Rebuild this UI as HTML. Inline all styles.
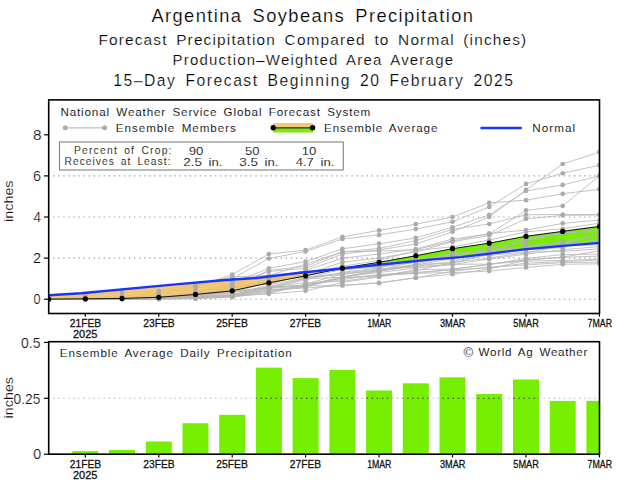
<!DOCTYPE html>
<html><head><meta charset="utf-8"><title>Argentina Soybeans Precipitation</title>
<style>html,body{margin:0;padding:0;background:#fff;width:622px;height:487px;overflow:hidden}svg{display:block}text{font-family:"Liberation Sans",sans-serif}</style>
</head><body>
<svg width="622" height="487" viewBox="0 0 622 487"><rect x="0" y="0" width="622" height="487" fill="#fff"/><g id="grid" stroke="#a0a0a0" stroke-width="1.1" stroke-dasharray="1.4 3.657"><line x1="53.1" y1="299.2" x2="599" y2="299.2"/><line x1="53.1" y1="258.1" x2="599" y2="258.1"/><line x1="53.1" y1="217.0" x2="599" y2="217.0"/><line x1="53.1" y1="175.9" x2="599" y2="175.9"/></g><defs><clipPath id="cp"><rect x="48.6" y="99" width="550.9" height="214.5"/></clipPath></defs><g clip-path="url(#cp)"><g id="ens"><polygon points="339.6,268.71 340.1,268.60 340.6,268.50 341.1,268.39 341.6,268.29 342.1,268.18 342.6,268.09 343.1,268.01 343.6,267.93 344.1,267.85 344.6,267.77 345.1,267.69 345.6,267.61 346.1,267.53 346.6,267.45 347.1,267.37 347.6,267.29 348.1,267.21 348.6,267.13 349.1,267.05 349.6,266.97 350.1,266.89 350.6,266.81 351.1,266.73 351.6,266.65 352.1,266.57 352.6,266.49 353.1,266.41 353.6,266.33 354.1,266.26 354.6,266.18 355.1,266.10 355.6,266.02 356.1,265.94 356.6,265.86 357.1,265.78 357.6,265.70 358.1,265.62 358.6,265.54 359.1,265.46 359.6,265.38 360.1,265.30 360.6,265.22 361.1,265.14 361.6,265.06 362.1,264.98 362.6,264.90 363.1,264.82 363.6,264.74 364.1,264.66 364.6,264.58 365.1,264.50 365.6,264.42 366.1,264.34 366.6,264.26 367.1,264.18 367.6,264.10 368.1,264.02 368.6,263.94 369.1,263.86 369.6,263.78 370.1,263.70 370.6,263.62 371.1,263.54 371.6,263.47 372.1,263.39 372.6,263.31 373.1,263.23 373.6,263.15 374.1,263.07 374.6,262.99 375.1,262.91 375.6,262.83 376.1,262.75 376.6,262.67 377.1,262.59 377.6,262.51 378.1,262.43 378.6,262.35 379.1,262.27 379.6,262.18 380.1,262.09 380.6,262.00 381.1,261.91 381.6,261.83 382.1,261.74 382.6,261.65 383.1,261.56 383.6,261.47 384.1,261.38 384.6,261.29 385.1,261.20 385.6,261.12 386.1,261.03 386.6,260.94 387.1,260.85 387.6,260.76 388.1,260.67 388.6,260.58 389.1,260.49 389.6,260.41 390.1,260.32 390.6,260.23 391.1,260.14 391.6,260.05 392.1,259.96 392.6,259.87 393.1,259.78 393.6,259.70 394.1,259.61 394.6,259.52 395.1,259.43 395.6,259.34 396.1,259.25 396.6,259.16 397.1,259.07 397.6,258.99 398.1,258.90 398.6,258.81 399.1,258.72 399.6,258.63 400.1,258.54 400.6,258.45 401.1,258.36 401.6,258.28 402.1,258.19 402.6,258.10 403.1,258.01 403.6,257.92 404.1,257.83 404.6,257.74 405.1,257.66 405.6,257.57 406.1,257.48 406.6,257.39 407.1,257.30 407.6,257.21 408.1,257.12 408.6,257.03 409.1,256.95 409.6,256.86 410.1,256.77 410.6,256.68 411.1,256.59 411.6,256.50 412.1,256.41 412.6,256.32 413.1,256.24 413.6,256.15 414.1,256.06 414.6,255.97 415.1,255.88 415.6,255.79 416.1,255.70 416.6,255.60 417.1,255.51 417.6,255.41 418.1,255.31 418.6,255.22 419.1,255.12 419.6,255.03 420.1,254.93 420.6,254.83 421.1,254.74 421.6,254.64 422.1,254.54 422.6,254.45 423.1,254.35 423.6,254.26 424.1,254.16 424.6,254.06 425.1,253.97 425.6,253.87 426.1,253.77 426.6,253.68 427.1,253.58 427.6,253.49 428.1,253.39 428.6,253.29 429.1,253.20 429.6,253.10 430.1,253.00 430.6,252.91 431.1,252.81 431.6,252.72 432.1,252.62 432.6,252.52 433.1,252.43 433.6,252.33 434.1,252.23 434.6,252.14 435.1,252.04 435.6,251.95 436.1,251.85 436.6,251.75 437.1,251.66 437.6,251.56 438.1,251.46 438.6,251.37 439.1,251.27 439.6,251.18 440.1,251.08 440.6,250.98 441.1,250.89 441.6,250.79 442.1,250.69 442.6,250.60 443.1,250.50 443.6,250.41 444.1,250.31 444.6,250.21 445.1,250.12 445.6,250.02 446.1,249.92 446.6,249.83 447.1,249.73 447.6,249.64 448.1,249.54 448.6,249.44 449.1,249.35 449.6,249.25 450.1,249.15 450.6,249.06 451.1,248.96 451.6,248.87 452.1,248.77 452.6,248.68 453.1,248.60 453.6,248.53 454.1,248.45 454.6,248.38 455.1,248.30 455.6,248.22 456.1,248.15 456.6,248.07 457.1,248.00 457.6,247.92 458.1,247.85 458.6,247.77 459.1,247.70 459.6,247.62 460.1,247.55 460.6,247.47 461.1,247.40 461.6,247.32 462.1,247.25 462.6,247.17 463.1,247.09 463.6,247.02 464.1,246.94 464.6,246.87 465.1,246.79 465.6,246.72 466.1,246.64 466.6,246.57 467.1,246.49 467.6,246.42 468.1,246.34 468.6,246.27 469.1,246.19 469.6,246.12 470.1,246.04 470.6,245.96 471.1,245.89 471.6,245.81 472.1,245.74 472.6,245.66 473.1,245.59 473.6,245.51 474.1,245.44 474.6,245.36 475.1,245.29 475.6,245.21 476.1,245.14 476.6,245.06 477.1,244.99 477.6,244.91 478.1,244.83 478.6,244.76 479.1,244.68 479.6,244.61 480.1,244.53 480.6,244.46 481.1,244.38 481.6,244.31 482.1,244.23 482.6,244.16 483.1,244.08 483.6,244.01 484.1,243.93 484.6,243.86 485.1,243.78 485.6,243.70 486.1,243.63 486.6,243.55 487.1,243.48 487.6,243.40 488.1,243.33 488.6,243.25 489.1,243.18 489.6,243.09 490.1,243.00 490.6,242.90 491.1,242.81 491.6,242.71 492.1,242.62 492.6,242.53 493.1,242.43 493.6,242.34 494.1,242.25 494.6,242.15 495.1,242.06 495.6,241.97 496.1,241.87 496.6,241.78 497.1,241.69 497.6,241.59 498.1,241.50 498.6,241.41 499.1,241.31 499.6,241.22 500.1,241.13 500.6,241.03 501.1,240.94 501.6,240.85 502.1,240.75 502.6,240.66 503.1,240.56 503.6,240.47 504.1,240.38 504.6,240.28 505.1,240.19 505.6,240.10 506.1,240.00 506.6,239.91 507.1,239.82 507.6,239.72 508.1,239.63 508.6,239.54 509.1,239.44 509.6,239.35 510.1,239.26 510.6,239.16 511.1,239.07 511.6,238.98 512.1,238.88 512.6,238.79 513.1,238.70 513.6,238.60 514.1,238.51 514.6,238.41 515.1,238.32 515.6,238.23 516.1,238.13 516.6,238.04 517.1,237.95 517.6,237.85 518.1,237.76 518.6,237.67 519.1,237.57 519.6,237.48 520.1,237.39 520.6,237.29 521.1,237.20 521.6,237.11 522.1,237.01 522.6,236.92 523.1,236.83 523.6,236.73 524.1,236.64 524.6,236.55 525.1,236.45 525.6,236.36 526.1,236.27 526.6,236.21 527.1,236.14 527.6,236.07 528.1,236.01 528.6,235.94 529.1,235.87 529.6,235.81 530.1,235.74 530.6,235.67 531.1,235.61 531.6,235.54 532.1,235.47 532.6,235.41 533.1,235.34 533.6,235.27 534.1,235.21 534.6,235.14 535.1,235.07 535.6,235.00 536.1,234.94 536.6,234.87 537.1,234.80 537.6,234.74 538.1,234.67 538.6,234.60 539.1,234.54 539.6,234.47 540.1,234.40 540.6,234.34 541.1,234.27 541.6,234.20 542.1,234.14 542.6,234.07 543.1,234.00 543.6,233.94 544.1,233.87 544.6,233.80 545.1,233.74 545.6,233.67 546.1,233.60 546.6,233.54 547.1,233.47 547.6,233.40 548.1,233.34 548.6,233.27 549.1,233.20 549.6,233.14 550.1,233.07 550.6,233.00 551.1,232.94 551.6,232.87 552.1,232.80 552.6,232.74 553.1,232.67 553.6,232.60 554.1,232.54 554.6,232.47 555.1,232.40 555.6,232.34 556.1,232.27 556.6,232.20 557.1,232.14 557.6,232.07 558.1,232.00 558.6,231.94 559.1,231.87 559.6,231.80 560.1,231.74 560.6,231.67 561.1,231.60 561.6,231.54 562.1,231.47 562.6,231.40 563.1,231.34 563.6,231.27 564.1,231.20 564.6,231.14 565.1,231.07 565.6,231.00 566.1,230.94 566.6,230.87 567.1,230.80 567.6,230.74 568.1,230.67 568.6,230.60 569.1,230.54 569.6,230.47 570.1,230.40 570.6,230.34 571.1,230.27 571.6,230.20 572.1,230.14 572.6,230.07 573.1,230.00 573.6,229.94 574.1,229.87 574.6,229.80 575.1,229.74 575.6,229.67 576.1,229.60 576.6,229.54 577.1,229.47 577.6,229.40 578.1,229.34 578.6,229.27 579.1,229.20 579.6,229.14 580.1,229.07 580.6,229.00 581.1,228.94 581.6,228.87 582.1,228.80 582.6,228.73 583.1,228.67 583.6,228.60 584.1,228.53 584.6,228.47 585.1,228.40 585.6,228.33 586.1,228.27 586.6,228.20 587.1,228.13 587.6,228.07 588.1,228.00 588.6,227.93 589.1,227.87 589.6,227.80 590.1,227.73 590.6,227.67 591.1,227.60 591.6,227.53 592.1,227.47 592.6,227.40 593.1,227.33 593.6,227.27 594.1,227.20 594.6,227.13 595.1,227.07 595.6,227.00 596.1,226.93 596.6,226.87 597.1,226.80 597.6,226.73 598.1,226.67 598.6,226.60 599.1,226.53 599.5,226.48 599.5,242.90 599.1,242.93 598.6,242.97 598.1,243.01 597.6,243.05 597.1,243.09 596.6,243.13 596.1,243.18 595.6,243.22 595.1,243.26 594.6,243.30 594.1,243.34 593.6,243.38 593.1,243.42 592.6,243.46 592.1,243.50 591.6,243.54 591.1,243.58 590.6,243.62 590.1,243.66 589.6,243.70 589.1,243.74 588.6,243.78 588.1,243.82 587.6,243.86 587.1,243.90 586.6,243.95 586.1,243.99 585.6,244.03 585.1,244.07 584.6,244.11 584.1,244.15 583.6,244.19 583.1,244.23 582.6,244.27 582.1,244.31 581.6,244.35 581.1,244.39 580.6,244.43 580.1,244.47 579.6,244.51 579.1,244.55 578.6,244.59 578.1,244.63 577.6,244.67 577.1,244.71 576.6,244.76 576.1,244.80 575.6,244.84 575.1,244.88 574.6,244.92 574.1,244.96 573.6,245.00 573.1,245.04 572.6,245.08 572.1,245.12 571.6,245.16 571.1,245.20 570.6,245.24 570.1,245.28 569.6,245.32 569.1,245.36 568.6,245.40 568.1,245.44 567.6,245.48 567.1,245.52 566.6,245.57 566.1,245.61 565.6,245.65 565.1,245.69 564.6,245.73 564.1,245.77 563.6,245.81 563.1,245.85 562.6,245.89 562.1,245.93 561.6,245.97 561.1,246.01 560.6,246.05 560.1,246.09 559.6,246.14 559.1,246.18 558.6,246.23 558.1,246.27 557.6,246.32 557.1,246.37 556.6,246.41 556.1,246.46 555.6,246.50 555.1,246.55 554.6,246.59 554.1,246.64 553.6,246.69 553.1,246.73 552.6,246.78 552.1,246.82 551.6,246.87 551.1,246.92 550.6,246.96 550.1,247.01 549.6,247.05 549.1,247.10 548.6,247.14 548.1,247.19 547.6,247.24 547.1,247.28 546.6,247.33 546.1,247.37 545.6,247.42 545.1,247.47 544.6,247.51 544.1,247.56 543.6,247.60 543.1,247.65 542.6,247.69 542.1,247.74 541.6,247.79 541.1,247.83 540.6,247.88 540.1,247.92 539.6,247.97 539.1,248.02 538.6,248.06 538.1,248.11 537.6,248.15 537.1,248.20 536.6,248.25 536.1,248.29 535.6,248.34 535.1,248.38 534.6,248.43 534.1,248.47 533.6,248.52 533.1,248.57 532.6,248.61 532.1,248.66 531.6,248.70 531.1,248.75 530.6,248.79 530.1,248.84 529.6,248.89 529.1,248.93 528.6,248.98 528.1,249.02 527.6,249.07 527.1,249.12 526.6,249.16 526.1,249.21 525.6,249.25 525.1,249.30 524.6,249.34 524.1,249.39 523.6,249.45 523.1,249.51 522.6,249.57 522.1,249.63 521.6,249.69 521.1,249.75 520.6,249.82 520.1,249.88 519.6,249.94 519.1,250.00 518.6,250.06 518.1,250.12 517.6,250.18 517.1,250.24 516.6,250.30 516.1,250.37 515.6,250.43 515.1,250.49 514.6,250.55 514.1,250.61 513.6,250.67 513.1,250.73 512.6,250.79 512.1,250.85 511.6,250.92 511.1,250.98 510.6,251.04 510.1,251.10 509.6,251.16 509.1,251.22 508.6,251.28 508.1,251.34 507.6,251.40 507.1,251.47 506.6,251.53 506.1,251.59 505.6,251.65 505.1,251.71 504.6,251.77 504.1,251.83 503.6,251.89 503.1,251.95 502.6,252.02 502.1,252.08 501.6,252.14 501.1,252.20 500.6,252.26 500.1,252.32 499.6,252.38 499.1,252.44 498.6,252.50 498.1,252.57 497.6,252.63 497.1,252.69 496.6,252.75 496.1,252.81 495.6,252.87 495.1,252.93 494.6,252.99 494.1,253.05 493.6,253.12 493.1,253.18 492.6,253.24 492.1,253.30 491.6,253.36 491.1,253.42 490.6,253.48 490.1,253.54 489.6,253.60 489.1,253.67 488.6,253.73 488.1,253.79 487.6,253.85 487.1,253.91 486.6,253.97 486.1,254.03 485.6,254.09 485.1,254.15 484.6,254.22 484.1,254.28 483.6,254.34 483.1,254.40 482.6,254.46 482.1,254.52 481.6,254.58 481.1,254.64 480.6,254.70 480.1,254.77 479.6,254.83 479.1,254.89 478.6,254.95 478.1,255.01 477.6,255.07 477.1,255.13 476.6,255.19 476.1,255.25 475.6,255.32 475.1,255.38 474.6,255.44 474.1,255.50 473.6,255.56 473.1,255.62 472.6,255.68 472.1,255.74 471.6,255.80 471.1,255.87 470.6,255.93 470.1,255.99 469.6,256.05 469.1,256.11 468.6,256.17 468.1,256.23 467.6,256.29 467.1,256.35 466.6,256.42 466.1,256.48 465.6,256.54 465.1,256.60 464.6,256.66 464.1,256.72 463.6,256.78 463.1,256.84 462.6,256.90 462.1,256.97 461.6,257.03 461.1,257.09 460.6,257.13 460.1,257.17 459.6,257.21 459.1,257.25 458.6,257.29 458.1,257.33 457.6,257.37 457.1,257.41 456.6,257.45 456.1,257.50 455.6,257.54 455.1,257.58 454.6,257.62 454.1,257.66 453.6,257.70 453.1,257.74 452.6,257.78 452.1,257.82 451.6,257.86 451.1,257.90 450.6,257.94 450.1,257.98 449.6,258.02 449.1,258.06 448.6,258.10 448.1,258.14 447.6,258.18 447.1,258.22 446.6,258.26 446.1,258.30 445.6,258.34 445.1,258.38 444.6,258.42 444.1,258.46 443.6,258.50 443.1,258.54 442.6,258.58 442.1,258.62 441.6,258.66 441.1,258.70 440.6,258.75 440.1,258.79 439.6,258.83 439.1,258.87 438.6,258.91 438.1,258.95 437.6,258.99 437.1,259.03 436.6,259.07 436.1,259.11 435.6,259.15 435.1,259.19 434.6,259.23 434.1,259.27 433.6,259.31 433.1,259.35 432.6,259.39 432.1,259.43 431.6,259.47 431.1,259.51 430.6,259.55 430.1,259.59 429.6,259.64 429.1,259.69 428.6,259.74 428.1,259.79 427.6,259.84 427.1,259.89 426.6,259.94 426.1,260.00 425.6,260.05 425.1,260.10 424.6,260.15 424.1,260.20 423.6,260.25 423.1,260.30 422.6,260.35 422.1,260.40 421.6,260.45 421.1,260.50 420.6,260.55 420.1,260.60 419.6,260.66 419.1,260.71 418.6,260.76 418.1,260.81 417.6,260.86 417.1,260.91 416.6,260.96 416.1,261.01 415.6,261.06 415.1,261.11 414.6,261.16 414.1,261.21 413.6,261.26 413.1,261.31 412.6,261.37 412.1,261.42 411.6,261.47 411.1,261.52 410.6,261.57 410.1,261.62 409.6,261.67 409.1,261.72 408.6,261.77 408.1,261.82 407.6,261.87 407.1,261.92 406.6,261.97 406.1,262.03 405.6,262.08 405.1,262.13 404.6,262.18 404.1,262.23 403.6,262.28 403.1,262.33 402.6,262.38 402.1,262.43 401.6,262.48 401.1,262.53 400.6,262.58 400.1,262.63 399.6,262.68 399.1,262.74 398.6,262.79 398.1,262.84 397.6,262.89 397.1,262.94 396.6,262.99 396.1,263.04 395.6,263.09 395.1,263.14 394.6,263.19 394.1,263.24 393.6,263.29 393.1,263.34 392.6,263.39 392.1,263.45 391.6,263.50 391.1,263.55 390.6,263.60 390.1,263.65 389.6,263.70 389.1,263.75 388.6,263.80 388.1,263.85 387.6,263.90 387.1,263.95 386.6,264.00 386.1,264.05 385.6,264.11 385.1,264.16 384.6,264.21 384.1,264.26 383.6,264.31 383.1,264.36 382.6,264.41 382.1,264.46 381.6,264.51 381.1,264.56 380.6,264.61 380.1,264.66 379.6,264.71 379.1,264.76 378.6,264.82 378.1,264.87 377.6,264.92 377.1,264.97 376.6,265.02 376.1,265.07 375.6,265.12 375.1,265.17 374.6,265.22 374.1,265.27 373.6,265.32 373.1,265.37 372.6,265.42 372.1,265.48 371.6,265.53 371.1,265.58 370.6,265.63 370.1,265.68 369.6,265.73 369.1,265.78 368.6,265.83 368.1,265.88 367.6,265.93 367.1,265.98 366.6,266.03 366.1,266.08 365.6,266.13 365.1,266.19 364.6,266.24 364.1,266.29 363.6,266.34 363.1,266.39 362.6,266.44 362.1,266.49 361.6,266.54 361.1,266.59 360.6,266.64 360.1,266.69 359.6,266.74 359.1,266.79 358.6,266.84 358.1,266.89 357.6,266.94 357.1,266.99 356.6,267.04 356.1,267.09 355.6,267.14 355.1,267.19 354.6,267.24 354.1,267.29 353.6,267.34 353.1,267.39 352.6,267.44 352.1,267.49 351.6,267.54 351.1,267.59 350.6,267.64 350.1,267.69 349.6,267.74 349.1,267.79 348.6,267.84 348.1,267.89 347.6,267.94 347.1,267.99 346.6,268.04 346.1,268.09 345.6,268.14 345.1,268.19 344.6,268.24 344.1,268.29 343.6,268.34 343.1,268.39 342.6,268.44 342.1,268.49 341.6,268.54 341.1,268.59 340.6,268.64 340.1,268.69 339.6,268.74" fill="#76ee00"/><g fill="none" stroke="#b8b8b8" stroke-width="0.85"><polyline points="48.6,299.20 85.3,298.99 122.0,298.17 158.8,294.06 195.5,286.87 232.2,274.54 268.9,253.99 305.6,250.09 342.4,236.93 379.1,230.36 415.8,224.19 452.5,217.00 489.2,202.82 526.0,200.15 562.7,193.78 599.4,189.26"/><polyline points="48.6,299.20 85.3,298.99 122.0,298.17 158.8,295.09 195.5,288.93 232.2,278.65 268.9,258.51 305.6,251.52 342.4,238.99 379.1,234.88 415.8,229.12 452.5,221.73 489.2,206.93 526.0,183.91 562.7,173.23 599.4,165.21"/><polyline points="48.6,299.20 85.3,299.20 122.0,298.58 158.8,296.73 195.5,292.01 232.2,282.76 268.9,268.38 305.6,261.59 342.4,248.85 379.1,243.71 415.8,237.96 452.5,227.27 489.2,214.94 526.0,190.90 562.7,184.94 599.4,175.90"/><polyline points="48.6,299.20 85.3,299.20 122.0,298.79 158.8,297.14 195.5,293.03 232.2,284.81 268.9,271.46 305.6,268.38 342.4,253.99 379.1,249.88 415.8,243.92 452.5,231.80 489.2,217.00 526.0,189.87 562.7,163.98 599.4,152.06"/><polyline points="48.6,299.20 85.3,299.20 122.0,298.79 158.8,297.56 195.5,294.06 232.2,286.87 268.9,270.43 305.6,266.32 342.4,251.94 379.1,248.44 415.8,240.63 452.5,229.33 489.2,223.99 526.0,214.74 562.7,214.53 599.4,214.53"/><polyline points="48.6,299.20 85.3,299.20 122.0,298.99 158.8,297.97 195.5,295.09 232.2,288.93 268.9,278.65 305.6,270.43 342.4,258.10 379.1,253.99 415.8,249.06 452.5,238.99 489.2,234.06 526.0,210.42 562.7,205.90 599.4,175.90"/><polyline points="48.6,299.20 85.3,299.20 122.0,298.99 158.8,298.17 195.5,296.12 232.2,290.98 268.9,280.70 305.6,274.54 342.4,262.21 379.1,258.10 415.8,251.94 452.5,241.66 489.2,235.49 526.0,218.85 562.7,215.36 599.4,214.94"/><polyline points="48.6,299.20 85.3,297.39 122.0,296.33 158.8,292.72 195.5,285.84 232.2,276.69 268.9,275.65 305.6,264.10 342.4,251.74 379.1,251.08 415.8,249.70 452.5,240.95 489.2,233.41 526.0,230.21 562.7,223.35 599.4,220.08"/><polyline points="48.6,299.20 85.3,299.00 122.0,298.51 158.8,297.38 195.5,291.52 232.2,286.57 268.9,284.09 305.6,274.10 342.4,266.22 379.1,260.33 415.8,250.38 452.5,246.87 489.2,240.05 526.0,231.86 562.7,228.74 599.4,223.16"/><polyline points="48.6,299.20 85.3,299.01 122.0,298.67 158.8,298.40 195.5,297.58 232.2,296.25 268.9,293.47 305.6,283.99 342.4,274.00 379.1,270.47 415.8,264.51 452.5,254.02 489.2,252.47 526.0,240.46 562.7,231.04 599.4,226.04"/><polyline points="48.6,299.20 85.3,299.09 122.0,299.06 158.8,299.00 195.5,298.64 232.2,296.94 268.9,288.32 305.6,279.67 342.4,272.26 379.1,268.06 415.8,258.03 452.5,257.22 489.2,248.38 526.0,238.85 562.7,233.30 599.4,229.33"/><polyline points="48.6,299.20 85.3,299.11 122.0,299.09 158.8,298.20 195.5,296.89 232.2,294.74 268.9,287.76 305.6,278.20 342.4,269.03 379.1,262.97 415.8,261.59 452.5,253.96 489.2,252.34 526.0,240.70 562.7,232.88 599.4,231.38"/><polyline points="48.6,299.20 85.3,299.18 122.0,299.05 158.8,298.43 195.5,297.99 232.2,295.85 268.9,291.23 305.6,286.98 342.4,277.19 379.1,270.63 415.8,261.02 452.5,255.41 489.2,249.21 526.0,247.20 562.7,241.88 599.4,233.44"/><polyline points="48.6,299.20 85.3,299.17 122.0,299.10 158.8,299.03 195.5,296.53 232.2,294.70 268.9,287.31 305.6,285.63 342.4,276.85 379.1,270.62 415.8,266.48 452.5,261.38 489.2,254.55 526.0,245.50 562.7,242.27 599.4,236.52"/><polyline points="48.6,299.20 85.3,299.16 122.0,299.12 158.8,298.57 195.5,295.21 232.2,294.83 268.9,284.85 305.6,277.60 342.4,274.48 379.1,269.80 415.8,264.48 452.5,263.08 489.2,254.33 526.0,249.70 562.7,247.62 599.4,238.58"/><polyline points="48.6,299.20 85.3,298.92 122.0,298.29 158.8,297.36 195.5,295.56 232.2,292.81 268.9,281.95 305.6,275.79 342.4,267.10 379.1,266.47 415.8,260.76 452.5,253.50 489.2,250.87 526.0,247.09 562.7,243.73 599.4,240.63"/><polyline points="48.6,299.20 85.3,298.82 122.0,298.27 158.8,297.64 195.5,296.87 232.2,296.47 268.9,286.52 305.6,278.66 342.4,277.23 379.1,271.42 415.8,265.18 452.5,258.37 489.2,253.98 526.0,248.82 562.7,245.14 599.4,242.69"/><polyline points="48.6,299.20 85.3,299.19 122.0,299.06 158.8,298.85 195.5,298.22 232.2,296.15 268.9,293.86 305.6,290.83 342.4,282.42 379.1,277.02 415.8,270.60 452.5,262.60 489.2,257.88 526.0,252.86 562.7,245.82 599.4,244.74"/><polyline points="48.6,299.20 85.3,299.01 122.0,298.89 158.8,298.22 195.5,294.41 232.2,292.68 268.9,287.12 305.6,285.27 342.4,276.93 379.1,272.46 415.8,268.12 452.5,264.53 489.2,259.14 526.0,254.14 562.7,249.70 599.4,246.59"/><polyline points="48.6,299.20 85.3,298.56 122.0,297.69 158.8,296.83 195.5,293.52 232.2,288.32 268.9,279.10 305.6,271.78 342.4,269.60 379.1,267.20 415.8,262.34 452.5,255.72 489.2,255.42 526.0,252.02 562.7,251.51 599.4,248.85"/><polyline points="48.6,299.20 85.3,299.17 122.0,299.12 158.8,299.06 195.5,298.46 232.2,297.15 268.9,292.22 305.6,286.03 342.4,285.27 379.1,283.09 415.8,277.59 452.5,274.25 489.2,269.11 526.0,260.12 562.7,257.11 599.4,250.91"/><polyline points="48.6,299.20 85.3,298.95 122.0,298.57 158.8,297.42 195.5,294.60 232.2,291.94 268.9,286.86 305.6,282.72 342.4,281.24 379.1,276.20 415.8,269.79 452.5,269.10 489.2,264.60 526.0,258.44 562.7,254.50 599.4,253.99"/><polyline points="48.6,299.20 85.3,295.63 122.0,292.72 158.8,290.87 195.5,284.02 232.2,281.26 268.9,278.38 305.6,277.54 342.4,273.08 379.1,269.06 415.8,266.65 452.5,264.42 489.2,264.05 526.0,259.93 562.7,257.36 599.4,256.04"/><polyline points="48.6,299.20 85.3,299.14 122.0,298.73 158.8,298.55 195.5,296.70 232.2,295.22 268.9,287.61 305.6,285.30 342.4,278.05 379.1,275.53 415.8,273.36 452.5,269.50 489.2,264.18 526.0,261.04 562.7,260.51 599.4,259.13"/><polyline points="48.6,299.20 85.3,298.93 122.0,298.38 158.8,297.59 195.5,293.59 232.2,291.50 268.9,288.36 305.6,285.51 342.4,279.53 379.1,274.50 415.8,272.30 452.5,269.83 489.2,267.75 526.0,263.25 562.7,261.55 599.4,260.15"/><polyline points="48.6,299.20 85.3,299.07 122.0,299.04 158.8,298.28 195.5,295.81 232.2,295.59 268.9,289.91 305.6,288.03 342.4,285.47 379.1,282.80 415.8,277.97 452.5,271.14 489.2,267.22 526.0,264.89 562.7,262.65 599.4,262.21"/><polyline points="48.6,299.20 85.3,299.16 122.0,298.71 158.8,297.50 195.5,297.09 232.2,296.20 268.9,290.18 305.6,285.84 342.4,277.91 379.1,275.43 415.8,273.20 452.5,272.65 489.2,271.08 526.0,267.46 562.7,264.27 599.4,263.85"/></g><g opacity="0.85"><polygon points="48.6,295.30 49.1,295.29 49.6,295.26 50.1,295.23 50.6,295.20 51.1,295.17 51.6,295.14 52.1,295.11 52.6,295.07 53.1,295.04 53.6,295.01 54.1,294.98 54.6,294.95 55.1,294.92 55.6,294.89 56.1,294.86 56.6,294.82 57.1,294.79 57.6,294.76 58.1,294.73 58.6,294.70 59.1,294.67 59.6,294.64 60.1,294.61 60.6,294.57 61.1,294.54 61.6,294.51 62.1,294.48 62.6,294.45 63.1,294.42 63.6,294.39 64.1,294.36 64.6,294.32 65.1,294.29 65.6,294.26 66.1,294.23 66.6,294.20 67.1,294.17 67.6,294.14 68.1,294.11 68.6,294.07 69.1,294.04 69.6,294.01 70.1,293.98 70.6,293.95 71.1,293.92 71.6,293.89 72.1,293.86 72.6,293.82 73.1,293.79 73.6,293.76 74.1,293.73 74.6,293.70 75.1,293.67 75.6,293.64 76.1,293.61 76.6,293.57 77.1,293.54 77.6,293.51 78.1,293.48 78.6,293.45 79.1,293.42 79.6,293.39 80.1,293.36 80.6,293.32 81.1,293.29 81.6,293.24 82.1,293.20 82.6,293.15 83.1,293.10 83.6,293.05 84.1,293.01 84.6,292.96 85.1,292.91 85.6,292.87 86.1,292.82 86.6,292.77 87.1,292.72 87.6,292.68 88.1,292.63 88.6,292.58 89.1,292.54 89.6,292.49 90.1,292.44 90.6,292.39 91.1,292.35 91.6,292.30 92.1,292.25 92.6,292.21 93.1,292.16 93.6,292.11 94.1,292.06 94.6,292.02 95.1,291.97 95.6,291.92 96.1,291.87 96.6,291.83 97.1,291.78 97.6,291.73 98.1,291.69 98.6,291.64 99.1,291.59 99.6,291.54 100.1,291.50 100.6,291.45 101.1,291.40 101.6,291.36 102.1,291.31 102.6,291.26 103.1,291.21 103.6,291.17 104.1,291.12 104.6,291.07 105.1,291.03 105.6,290.98 106.1,290.93 106.6,290.88 107.1,290.84 107.6,290.79 108.1,290.74 108.6,290.70 109.1,290.65 109.6,290.60 110.1,290.55 110.6,290.51 111.1,290.46 111.6,290.41 112.1,290.36 112.6,290.32 113.1,290.27 113.6,290.22 114.1,290.18 114.6,290.13 115.1,290.08 115.6,290.03 116.1,289.99 116.6,289.94 117.1,289.89 117.6,289.85 118.1,289.80 118.6,289.75 119.1,289.70 119.6,289.66 120.1,289.61 120.6,289.56 121.1,289.52 121.6,289.47 122.1,289.42 122.6,289.37 123.1,289.33 123.6,289.28 124.1,289.23 124.6,289.18 125.1,289.14 125.6,289.09 126.1,289.04 126.6,289.00 127.1,288.95 127.6,288.90 128.1,288.85 128.6,288.81 129.1,288.76 129.6,288.71 130.1,288.67 130.6,288.62 131.1,288.57 131.6,288.52 132.1,288.48 132.6,288.43 133.1,288.38 133.6,288.34 134.1,288.29 134.6,288.24 135.1,288.19 135.6,288.15 136.1,288.10 136.6,288.05 137.1,288.01 137.6,287.96 138.1,287.91 138.6,287.86 139.1,287.82 139.6,287.77 140.1,287.72 140.6,287.67 141.1,287.63 141.6,287.58 142.1,287.53 142.6,287.49 143.1,287.44 143.6,287.39 144.1,287.34 144.6,287.30 145.1,287.25 145.6,287.20 146.1,287.16 146.6,287.11 147.1,287.06 147.6,287.01 148.1,286.97 148.6,286.92 149.1,286.87 149.6,286.83 150.1,286.78 150.6,286.73 151.1,286.68 151.6,286.64 152.1,286.59 152.6,286.54 153.1,286.50 153.6,286.45 154.1,286.40 154.6,286.35 155.1,286.31 155.6,286.26 156.1,286.21 156.6,286.16 157.1,286.12 157.6,286.07 158.1,286.02 158.6,285.98 159.1,285.93 159.6,285.88 160.1,285.83 160.6,285.79 161.1,285.74 161.6,285.69 162.1,285.65 162.6,285.60 163.1,285.55 163.6,285.50 164.1,285.46 164.6,285.41 165.1,285.36 165.6,285.32 166.1,285.27 166.6,285.22 167.1,285.17 167.6,285.13 168.1,285.08 168.6,285.03 169.1,284.98 169.6,284.94 170.1,284.89 170.6,284.85 171.1,284.80 171.6,284.76 172.1,284.71 172.6,284.67 173.1,284.62 173.6,284.58 174.1,284.53 174.6,284.49 175.1,284.45 175.6,284.40 176.1,284.36 176.6,284.31 177.1,284.27 177.6,284.22 178.1,284.18 178.6,284.13 179.1,284.09 179.6,284.04 180.1,284.00 180.6,283.96 181.1,283.91 181.6,283.87 182.1,283.82 182.6,283.78 183.1,283.73 183.6,283.69 184.1,283.64 184.6,283.60 185.1,283.55 185.6,283.51 186.1,283.47 186.6,283.42 187.1,283.38 187.6,283.33 188.1,283.29 188.6,283.24 189.1,283.20 189.6,283.15 190.1,283.11 190.6,283.06 191.1,283.02 191.6,282.98 192.1,282.93 192.6,282.89 193.1,282.84 193.6,282.80 194.1,282.75 194.6,282.71 195.1,282.66 195.6,282.62 196.1,282.57 196.6,282.53 197.1,282.49 197.6,282.44 198.1,282.40 198.6,282.35 199.1,282.31 199.6,282.26 200.1,282.22 200.6,282.17 201.1,282.13 201.6,282.08 202.1,282.04 202.6,282.00 203.1,281.95 203.6,281.91 204.1,281.86 204.6,281.82 205.1,281.77 205.6,281.73 206.1,281.68 206.6,281.64 207.1,281.59 207.6,281.55 208.1,281.51 208.6,281.46 209.1,281.42 209.6,281.37 210.1,281.33 210.6,281.28 211.1,281.24 211.6,281.19 212.1,281.15 212.6,281.10 213.1,281.06 213.6,281.02 214.1,280.97 214.6,280.93 215.1,280.88 215.6,280.84 216.1,280.79 216.6,280.75 217.1,280.70 217.6,280.66 218.1,280.61 218.6,280.57 219.1,280.53 219.6,280.48 220.1,280.44 220.6,280.39 221.1,280.35 221.6,280.30 222.1,280.26 222.6,280.21 223.1,280.17 223.6,280.12 224.1,280.08 224.6,280.04 225.1,279.99 225.6,279.96 226.1,279.93 226.6,279.90 227.1,279.86 227.6,279.83 228.1,279.80 228.6,279.77 229.1,279.74 229.6,279.70 230.1,279.67 230.6,279.64 231.1,279.61 231.6,279.57 232.1,279.54 232.6,279.51 233.1,279.48 233.6,279.45 234.1,279.41 234.6,279.38 235.1,279.35 235.6,279.32 236.1,279.28 236.6,279.25 237.1,279.22 237.6,279.19 238.1,279.15 238.6,279.12 239.1,279.09 239.6,279.06 240.1,279.03 240.6,278.99 241.1,278.96 241.6,278.93 242.1,278.90 242.6,278.86 243.1,278.83 243.6,278.80 244.1,278.77 244.6,278.74 245.1,278.70 245.6,278.67 246.1,278.64 246.6,278.61 247.1,278.57 247.6,278.54 248.1,278.51 248.6,278.48 249.1,278.45 249.6,278.41 250.1,278.38 250.6,278.35 251.1,278.32 251.6,278.28 252.1,278.25 252.6,278.22 253.1,278.19 253.6,278.15 254.1,278.12 254.6,278.09 255.1,278.06 255.6,278.03 256.1,277.99 256.6,277.93 257.1,277.87 257.6,277.81 258.1,277.75 258.6,277.69 259.1,277.63 259.6,277.57 260.1,277.51 260.6,277.45 261.1,277.39 261.6,277.33 262.1,277.27 262.6,277.20 263.1,277.14 263.6,277.08 264.1,277.02 264.6,276.96 265.1,276.90 265.6,276.84 266.1,276.78 266.6,276.72 267.1,276.66 267.6,276.60 268.1,276.54 268.6,276.48 269.1,276.42 269.6,276.36 270.1,276.30 270.6,276.24 271.1,276.18 271.6,276.12 272.1,276.06 272.6,276.00 273.1,275.94 273.6,275.88 274.1,275.82 274.6,275.76 275.1,275.70 275.6,275.64 276.1,275.58 276.6,275.52 277.1,275.46 277.6,275.40 278.1,275.34 278.6,275.28 279.1,275.22 279.6,275.16 280.1,275.10 280.6,275.04 281.1,274.98 281.6,274.92 282.1,274.86 282.6,274.80 283.1,274.74 283.6,274.68 284.1,274.62 284.6,274.56 285.1,274.49 285.6,274.43 286.1,274.37 286.6,274.31 287.1,274.25 287.6,274.19 288.1,274.13 288.6,274.07 289.1,274.01 289.6,273.95 290.1,273.89 290.6,273.83 291.1,273.77 291.6,273.71 292.1,273.65 292.6,273.59 293.1,273.53 293.6,273.47 294.1,273.41 294.6,273.35 295.1,273.29 295.6,273.23 296.1,273.17 296.6,273.11 297.1,273.05 297.6,272.99 298.1,272.93 298.6,272.87 299.1,272.81 299.6,272.75 300.1,272.69 300.6,272.64 301.1,272.59 301.6,272.54 302.1,272.49 302.6,272.44 303.1,272.39 303.6,272.34 304.1,272.29 304.6,272.24 305.1,272.19 305.6,272.14 306.1,272.09 306.6,272.04 307.1,271.99 307.6,271.94 308.1,271.89 308.6,271.84 309.1,271.79 309.6,271.74 310.1,271.69 310.6,271.64 311.1,271.59 311.6,271.54 312.1,271.49 312.6,271.44 313.1,271.39 313.6,271.34 314.1,271.29 314.6,271.24 315.1,271.19 315.6,271.14 316.1,271.09 316.6,271.04 317.1,270.99 317.6,270.94 318.1,270.89 318.6,270.84 319.1,270.79 319.6,270.74 320.1,270.69 320.6,270.64 321.1,270.59 321.6,270.54 322.1,270.49 322.6,270.44 323.1,270.39 323.6,270.34 324.1,270.29 324.6,270.24 325.1,270.19 325.6,270.14 326.1,270.09 326.6,270.04 327.1,269.99 327.6,269.94 328.1,269.89 328.6,269.84 329.1,269.79 329.6,269.74 330.1,269.69 330.6,269.64 331.1,269.59 331.6,269.54 332.1,269.49 332.6,269.44 333.1,269.39 333.6,269.34 334.1,269.29 334.6,269.24 335.1,269.19 335.6,269.14 336.1,269.09 336.6,269.04 337.1,268.99 337.6,268.94 338.1,268.89 338.6,268.84 339.1,268.79 339.6,268.71 339.6,268.74 339.1,268.81 338.6,268.92 338.1,269.02 337.6,269.13 337.1,269.24 336.6,269.34 336.1,269.45 335.6,269.55 335.1,269.66 334.6,269.76 334.1,269.87 333.6,269.97 333.1,270.08 332.6,270.18 332.1,270.29 331.6,270.39 331.1,270.50 330.6,270.61 330.1,270.71 329.6,270.82 329.1,270.92 328.6,271.03 328.1,271.13 327.6,271.24 327.1,271.34 326.6,271.45 326.1,271.55 325.6,271.66 325.1,271.76 324.6,271.87 324.1,271.97 323.6,272.08 323.1,272.19 322.6,272.29 322.1,272.40 321.6,272.50 321.1,272.61 320.6,272.71 320.1,272.82 319.6,272.92 319.1,273.03 318.6,273.13 318.1,273.24 317.6,273.34 317.1,273.45 316.6,273.56 316.1,273.66 315.6,273.77 315.1,273.87 314.6,273.98 314.1,274.08 313.6,274.19 313.1,274.29 312.6,274.40 312.1,274.50 311.6,274.61 311.1,274.71 310.6,274.82 310.1,274.93 309.6,275.03 309.1,275.14 308.6,275.24 308.1,275.35 307.6,275.45 307.1,275.56 306.6,275.66 306.1,275.77 305.6,275.87 305.1,275.97 304.6,276.06 304.1,276.16 303.6,276.25 303.1,276.35 302.6,276.44 302.1,276.54 301.6,276.63 301.1,276.73 300.6,276.83 300.1,276.92 299.6,277.02 299.1,277.11 298.6,277.21 298.1,277.30 297.6,277.40 297.1,277.49 296.6,277.59 296.1,277.68 295.6,277.78 295.1,277.87 294.6,277.97 294.1,278.06 293.6,278.16 293.1,278.25 292.6,278.35 292.1,278.44 291.6,278.54 291.1,278.63 290.6,278.73 290.1,278.83 289.6,278.92 289.1,279.02 288.6,279.11 288.1,279.21 287.6,279.30 287.1,279.40 286.6,279.49 286.1,279.59 285.6,279.68 285.1,279.78 284.6,279.87 284.1,279.97 283.6,280.06 283.1,280.16 282.6,280.25 282.1,280.35 281.6,280.44 281.1,280.54 280.6,280.63 280.1,280.73 279.6,280.83 279.1,280.92 278.6,281.02 278.1,281.11 277.6,281.21 277.1,281.30 276.6,281.40 276.1,281.49 275.6,281.59 275.1,281.68 274.6,281.78 274.1,281.87 273.6,281.97 273.1,282.06 272.6,282.16 272.1,282.25 271.6,282.35 271.1,282.44 270.6,282.54 270.1,282.63 269.6,282.73 269.1,282.82 268.6,282.93 268.1,283.04 267.6,283.15 267.1,283.25 266.6,283.36 266.1,283.47 265.6,283.58 265.1,283.69 264.6,283.80 264.1,283.90 263.6,284.01 263.1,284.12 262.6,284.23 262.1,284.34 261.6,284.45 261.1,284.55 260.6,284.66 260.1,284.77 259.6,284.88 259.1,284.99 258.6,285.10 258.1,285.20 257.6,285.31 257.1,285.42 256.6,285.53 256.1,285.64 255.6,285.75 255.1,285.85 254.6,285.96 254.1,286.07 253.6,286.18 253.1,286.29 252.6,286.40 252.1,286.50 251.6,286.61 251.1,286.72 250.6,286.83 250.1,286.94 249.6,287.05 249.1,287.16 248.6,287.26 248.1,287.37 247.6,287.48 247.1,287.59 246.6,287.70 246.1,287.81 245.6,287.91 245.1,288.02 244.6,288.13 244.1,288.24 243.6,288.35 243.1,288.46 242.6,288.56 242.1,288.67 241.6,288.78 241.1,288.89 240.6,289.00 240.1,289.11 239.6,289.21 239.1,289.32 238.6,289.43 238.1,289.54 237.6,289.65 237.1,289.76 236.6,289.86 236.1,289.97 235.6,290.08 235.1,290.19 234.6,290.30 234.1,290.41 233.6,290.51 233.1,290.62 232.6,290.73 232.1,290.83 231.6,290.88 231.1,290.93 230.6,290.98 230.1,291.03 229.6,291.07 229.1,291.12 228.6,291.17 228.1,291.22 227.6,291.27 227.1,291.32 226.6,291.37 226.1,291.42 225.6,291.47 225.1,291.52 224.6,291.57 224.1,291.62 223.6,291.67 223.1,291.72 222.6,291.76 222.1,291.81 221.6,291.86 221.1,291.91 220.6,291.96 220.1,292.01 219.6,292.06 219.1,292.11 218.6,292.16 218.1,292.21 217.6,292.26 217.1,292.31 216.6,292.36 216.1,292.41 215.6,292.46 215.1,292.50 214.6,292.55 214.1,292.60 213.6,292.65 213.1,292.70 212.6,292.75 212.1,292.80 211.6,292.85 211.1,292.90 210.6,292.95 210.1,293.00 209.6,293.05 209.1,293.10 208.6,293.15 208.1,293.19 207.6,293.24 207.1,293.29 206.6,293.34 206.1,293.39 205.6,293.44 205.1,293.49 204.6,293.54 204.1,293.59 203.6,293.64 203.1,293.69 202.6,293.74 202.1,293.79 201.6,293.84 201.1,293.89 200.6,293.93 200.1,293.98 199.6,294.03 199.1,294.08 198.6,294.13 198.1,294.18 197.6,294.23 197.1,294.28 196.6,294.33 196.1,294.38 195.6,294.43 195.1,294.47 194.6,294.51 194.1,294.55 193.6,294.59 193.1,294.62 192.6,294.66 192.1,294.70 191.6,294.74 191.1,294.78 190.6,294.82 190.1,294.86 189.6,294.90 189.1,294.93 188.6,294.97 188.1,295.01 187.6,295.05 187.1,295.09 186.6,295.13 186.1,295.17 185.6,295.21 185.1,295.24 184.6,295.28 184.1,295.32 183.6,295.36 183.1,295.40 182.6,295.44 182.1,295.48 181.6,295.52 181.1,295.56 180.6,295.59 180.1,295.63 179.6,295.67 179.1,295.71 178.6,295.75 178.1,295.79 177.6,295.83 177.1,295.87 176.6,295.90 176.1,295.94 175.6,295.98 175.1,296.02 174.6,296.06 174.1,296.10 173.6,296.14 173.1,296.18 172.6,296.21 172.1,296.25 171.6,296.29 171.1,296.33 170.6,296.37 170.1,296.41 169.6,296.45 169.1,296.49 168.6,296.52 168.1,296.56 167.6,296.60 167.1,296.64 166.6,296.68 166.1,296.72 165.6,296.76 165.1,296.80 164.6,296.84 164.1,296.87 163.6,296.91 163.1,296.95 162.6,296.99 162.1,297.03 161.6,297.07 161.1,297.11 160.6,297.15 160.1,297.18 159.6,297.22 159.1,297.26 158.6,297.29 158.1,297.31 157.6,297.33 157.1,297.34 156.6,297.36 156.1,297.37 155.6,297.39 155.1,297.40 154.6,297.42 154.1,297.44 153.6,297.45 153.1,297.47 152.6,297.48 152.1,297.50 151.6,297.52 151.1,297.53 150.6,297.55 150.1,297.56 149.6,297.58 149.1,297.60 148.6,297.61 148.1,297.63 147.6,297.64 147.1,297.66 146.6,297.67 146.1,297.69 145.6,297.71 145.1,297.72 144.6,297.74 144.1,297.75 143.6,297.77 143.1,297.79 142.6,297.80 142.1,297.82 141.6,297.83 141.1,297.85 140.6,297.87 140.1,297.88 139.6,297.90 139.1,297.91 138.6,297.93 138.1,297.95 137.6,297.96 137.1,297.98 136.6,297.99 136.1,298.01 135.6,298.02 135.1,298.04 134.6,298.06 134.1,298.07 133.6,298.09 133.1,298.10 132.6,298.12 132.1,298.14 131.6,298.15 131.1,298.17 130.6,298.18 130.1,298.20 129.6,298.22 129.1,298.23 128.6,298.25 128.1,298.26 127.6,298.28 127.1,298.29 126.6,298.31 126.1,298.33 125.6,298.34 125.1,298.36 124.6,298.37 124.1,298.39 123.6,298.41 123.1,298.42 122.6,298.44 122.1,298.45 121.6,298.46 121.1,298.47 120.6,298.47 120.1,298.48 119.6,298.48 119.1,298.49 118.6,298.49 118.1,298.50 117.6,298.50 117.1,298.51 116.6,298.51 116.1,298.52 115.6,298.52 115.1,298.53 114.6,298.53 114.1,298.54 113.6,298.54 113.1,298.55 112.6,298.55 112.1,298.56 111.6,298.57 111.1,298.57 110.6,298.58 110.1,298.58 109.6,298.59 109.1,298.59 108.6,298.60 108.1,298.60 107.6,298.61 107.1,298.61 106.6,298.62 106.1,298.62 105.6,298.63 105.1,298.63 104.6,298.64 104.1,298.64 103.6,298.65 103.1,298.65 102.6,298.66 102.1,298.67 101.6,298.67 101.1,298.68 100.6,298.68 100.1,298.69 99.6,298.69 99.1,298.70 98.6,298.70 98.1,298.71 97.6,298.71 97.1,298.72 96.6,298.72 96.1,298.73 95.6,298.73 95.1,298.74 94.6,298.74 94.1,298.75 93.6,298.75 93.1,298.76 92.6,298.77 92.1,298.77 91.6,298.78 91.1,298.78 90.6,298.79 90.1,298.79 89.6,298.80 89.1,298.80 88.6,298.81 88.1,298.81 87.6,298.82 87.1,298.82 86.6,298.83 86.1,298.83 85.6,298.84 85.1,298.84 84.6,298.85 84.1,298.85 83.6,298.85 83.1,298.86 82.6,298.86 82.1,298.87 81.6,298.87 81.1,298.87 80.6,298.88 80.1,298.88 79.6,298.89 79.1,298.89 78.6,298.89 78.1,298.90 77.6,298.90 77.1,298.91 76.6,298.91 76.1,298.91 75.6,298.92 75.1,298.92 74.6,298.92 74.1,298.93 73.6,298.93 73.1,298.94 72.6,298.94 72.1,298.94 71.6,298.95 71.1,298.95 70.6,298.96 70.1,298.96 69.6,298.96 69.1,298.97 68.6,298.97 68.1,298.98 67.6,298.98 67.1,298.98 66.6,298.99 66.1,298.99 65.6,298.99 65.1,299.00 64.6,299.00 64.1,299.01 63.6,299.01 63.1,299.01 62.6,299.02 62.1,299.02 61.6,299.03 61.1,299.03 60.6,299.03 60.1,299.04 59.6,299.04 59.1,299.05 58.6,299.05 58.1,299.05 57.6,299.06 57.1,299.06 56.6,299.06 56.1,299.07 55.6,299.07 55.1,299.08 54.6,299.08 54.1,299.08 53.6,299.09 53.1,299.09 52.6,299.10 52.1,299.10 51.6,299.10 51.1,299.11 50.6,299.11 50.1,299.11 49.6,299.12 49.1,299.12 48.6,299.13" fill="#f2c060"/></g><g fill="#ababab"><circle cx="48.6" cy="299.20" r="2.35"/><circle cx="85.3" cy="298.99" r="2.35"/><circle cx="122.0" cy="298.17" r="2.35"/><circle cx="158.8" cy="294.06" r="2.35"/><circle cx="195.5" cy="286.87" r="2.35"/><circle cx="232.2" cy="274.54" r="2.35"/><circle cx="268.9" cy="253.99" r="2.35"/><circle cx="305.6" cy="250.09" r="2.35"/><circle cx="342.4" cy="236.93" r="2.35"/><circle cx="379.1" cy="230.36" r="2.35"/><circle cx="415.8" cy="224.19" r="2.35"/><circle cx="452.5" cy="217.00" r="2.35"/><circle cx="489.2" cy="202.82" r="2.35"/><circle cx="526.0" cy="200.15" r="2.35"/><circle cx="562.7" cy="193.78" r="2.35"/><circle cx="599.4" cy="189.26" r="2.35"/><circle cx="48.6" cy="299.20" r="2.35"/><circle cx="85.3" cy="298.99" r="2.35"/><circle cx="122.0" cy="298.17" r="2.35"/><circle cx="158.8" cy="295.09" r="2.35"/><circle cx="195.5" cy="288.93" r="2.35"/><circle cx="232.2" cy="278.65" r="2.35"/><circle cx="268.9" cy="258.51" r="2.35"/><circle cx="305.6" cy="251.52" r="2.35"/><circle cx="342.4" cy="238.99" r="2.35"/><circle cx="379.1" cy="234.88" r="2.35"/><circle cx="415.8" cy="229.12" r="2.35"/><circle cx="452.5" cy="221.73" r="2.35"/><circle cx="489.2" cy="206.93" r="2.35"/><circle cx="526.0" cy="183.91" r="2.35"/><circle cx="562.7" cy="173.23" r="2.35"/><circle cx="599.4" cy="165.21" r="2.35"/><circle cx="48.6" cy="299.20" r="2.35"/><circle cx="85.3" cy="299.20" r="2.35"/><circle cx="122.0" cy="298.58" r="2.35"/><circle cx="158.8" cy="296.73" r="2.35"/><circle cx="195.5" cy="292.01" r="2.35"/><circle cx="232.2" cy="282.76" r="2.35"/><circle cx="268.9" cy="268.38" r="2.35"/><circle cx="305.6" cy="261.59" r="2.35"/><circle cx="342.4" cy="248.85" r="2.35"/><circle cx="379.1" cy="243.71" r="2.35"/><circle cx="415.8" cy="237.96" r="2.35"/><circle cx="452.5" cy="227.27" r="2.35"/><circle cx="489.2" cy="214.94" r="2.35"/><circle cx="526.0" cy="190.90" r="2.35"/><circle cx="562.7" cy="184.94" r="2.35"/><circle cx="599.4" cy="175.90" r="2.35"/><circle cx="48.6" cy="299.20" r="2.35"/><circle cx="85.3" cy="299.20" r="2.35"/><circle cx="122.0" cy="298.79" r="2.35"/><circle cx="158.8" cy="297.14" r="2.35"/><circle cx="195.5" cy="293.03" r="2.35"/><circle cx="232.2" cy="284.81" r="2.35"/><circle cx="268.9" cy="271.46" r="2.35"/><circle cx="305.6" cy="268.38" r="2.35"/><circle cx="342.4" cy="253.99" r="2.35"/><circle cx="379.1" cy="249.88" r="2.35"/><circle cx="415.8" cy="243.92" r="2.35"/><circle cx="452.5" cy="231.80" r="2.35"/><circle cx="489.2" cy="217.00" r="2.35"/><circle cx="526.0" cy="189.87" r="2.35"/><circle cx="562.7" cy="163.98" r="2.35"/><circle cx="599.4" cy="152.06" r="2.35"/><circle cx="48.6" cy="299.20" r="2.35"/><circle cx="85.3" cy="299.20" r="2.35"/><circle cx="122.0" cy="298.79" r="2.35"/><circle cx="158.8" cy="297.56" r="2.35"/><circle cx="195.5" cy="294.06" r="2.35"/><circle cx="232.2" cy="286.87" r="2.35"/><circle cx="268.9" cy="270.43" r="2.35"/><circle cx="305.6" cy="266.32" r="2.35"/><circle cx="342.4" cy="251.94" r="2.35"/><circle cx="379.1" cy="248.44" r="2.35"/><circle cx="415.8" cy="240.63" r="2.35"/><circle cx="452.5" cy="229.33" r="2.35"/><circle cx="489.2" cy="223.99" r="2.35"/><circle cx="526.0" cy="214.74" r="2.35"/><circle cx="562.7" cy="214.53" r="2.35"/><circle cx="599.4" cy="214.53" r="2.35"/><circle cx="48.6" cy="299.20" r="2.35"/><circle cx="85.3" cy="299.20" r="2.35"/><circle cx="122.0" cy="298.99" r="2.35"/><circle cx="158.8" cy="297.97" r="2.35"/><circle cx="195.5" cy="295.09" r="2.35"/><circle cx="232.2" cy="288.93" r="2.35"/><circle cx="268.9" cy="278.65" r="2.35"/><circle cx="305.6" cy="270.43" r="2.35"/><circle cx="342.4" cy="258.10" r="2.35"/><circle cx="379.1" cy="253.99" r="2.35"/><circle cx="415.8" cy="249.06" r="2.35"/><circle cx="452.5" cy="238.99" r="2.35"/><circle cx="489.2" cy="234.06" r="2.35"/><circle cx="526.0" cy="210.42" r="2.35"/><circle cx="562.7" cy="205.90" r="2.35"/><circle cx="599.4" cy="175.90" r="2.35"/><circle cx="48.6" cy="299.20" r="2.35"/><circle cx="85.3" cy="299.20" r="2.35"/><circle cx="122.0" cy="298.99" r="2.35"/><circle cx="158.8" cy="298.17" r="2.35"/><circle cx="195.5" cy="296.12" r="2.35"/><circle cx="232.2" cy="290.98" r="2.35"/><circle cx="268.9" cy="280.70" r="2.35"/><circle cx="305.6" cy="274.54" r="2.35"/><circle cx="342.4" cy="262.21" r="2.35"/><circle cx="379.1" cy="258.10" r="2.35"/><circle cx="415.8" cy="251.94" r="2.35"/><circle cx="452.5" cy="241.66" r="2.35"/><circle cx="489.2" cy="235.49" r="2.35"/><circle cx="526.0" cy="218.85" r="2.35"/><circle cx="562.7" cy="215.36" r="2.35"/><circle cx="599.4" cy="214.94" r="2.35"/><circle cx="48.6" cy="299.20" r="2.35"/><circle cx="85.3" cy="297.39" r="2.35"/><circle cx="122.0" cy="296.33" r="2.35"/><circle cx="158.8" cy="292.72" r="2.35"/><circle cx="195.5" cy="285.84" r="2.35"/><circle cx="232.2" cy="276.69" r="2.35"/><circle cx="268.9" cy="275.65" r="2.35"/><circle cx="305.6" cy="264.10" r="2.35"/><circle cx="342.4" cy="251.74" r="2.35"/><circle cx="379.1" cy="251.08" r="2.35"/><circle cx="415.8" cy="249.70" r="2.35"/><circle cx="452.5" cy="240.95" r="2.35"/><circle cx="489.2" cy="233.41" r="2.35"/><circle cx="526.0" cy="230.21" r="2.35"/><circle cx="562.7" cy="223.35" r="2.35"/><circle cx="599.4" cy="220.08" r="2.35"/><circle cx="48.6" cy="299.20" r="2.35"/><circle cx="85.3" cy="299.00" r="2.35"/><circle cx="122.0" cy="298.51" r="2.35"/><circle cx="158.8" cy="297.38" r="2.35"/><circle cx="195.5" cy="291.52" r="2.35"/><circle cx="232.2" cy="286.57" r="2.35"/><circle cx="268.9" cy="284.09" r="2.35"/><circle cx="305.6" cy="274.10" r="2.35"/><circle cx="342.4" cy="266.22" r="2.35"/><circle cx="379.1" cy="260.33" r="2.35"/><circle cx="415.8" cy="250.38" r="2.35"/><circle cx="452.5" cy="246.87" r="2.35"/><circle cx="489.2" cy="240.05" r="2.35"/><circle cx="526.0" cy="231.86" r="2.35"/><circle cx="562.7" cy="228.74" r="2.35"/><circle cx="599.4" cy="223.16" r="2.35"/><circle cx="48.6" cy="299.20" r="2.35"/><circle cx="85.3" cy="299.01" r="2.35"/><circle cx="122.0" cy="298.67" r="2.35"/><circle cx="158.8" cy="298.40" r="2.35"/><circle cx="195.5" cy="297.58" r="2.35"/><circle cx="232.2" cy="296.25" r="2.35"/><circle cx="268.9" cy="293.47" r="2.35"/><circle cx="305.6" cy="283.99" r="2.35"/><circle cx="342.4" cy="274.00" r="2.35"/><circle cx="379.1" cy="270.47" r="2.35"/><circle cx="415.8" cy="264.51" r="2.35"/><circle cx="452.5" cy="254.02" r="2.35"/><circle cx="489.2" cy="252.47" r="2.35"/><circle cx="526.0" cy="240.46" r="2.35"/><circle cx="562.7" cy="231.04" r="2.35"/><circle cx="599.4" cy="226.04" r="2.35"/><circle cx="48.6" cy="299.20" r="2.35"/><circle cx="85.3" cy="299.09" r="2.35"/><circle cx="122.0" cy="299.06" r="2.35"/><circle cx="158.8" cy="299.00" r="2.35"/><circle cx="195.5" cy="298.64" r="2.35"/><circle cx="232.2" cy="296.94" r="2.35"/><circle cx="268.9" cy="288.32" r="2.35"/><circle cx="305.6" cy="279.67" r="2.35"/><circle cx="342.4" cy="272.26" r="2.35"/><circle cx="379.1" cy="268.06" r="2.35"/><circle cx="415.8" cy="258.03" r="2.35"/><circle cx="452.5" cy="257.22" r="2.35"/><circle cx="489.2" cy="248.38" r="2.35"/><circle cx="526.0" cy="238.85" r="2.35"/><circle cx="562.7" cy="233.30" r="2.35"/><circle cx="599.4" cy="229.33" r="2.35"/><circle cx="48.6" cy="299.20" r="2.35"/><circle cx="85.3" cy="299.11" r="2.35"/><circle cx="122.0" cy="299.09" r="2.35"/><circle cx="158.8" cy="298.20" r="2.35"/><circle cx="195.5" cy="296.89" r="2.35"/><circle cx="232.2" cy="294.74" r="2.35"/><circle cx="268.9" cy="287.76" r="2.35"/><circle cx="305.6" cy="278.20" r="2.35"/><circle cx="342.4" cy="269.03" r="2.35"/><circle cx="379.1" cy="262.97" r="2.35"/><circle cx="415.8" cy="261.59" r="2.35"/><circle cx="452.5" cy="253.96" r="2.35"/><circle cx="489.2" cy="252.34" r="2.35"/><circle cx="526.0" cy="240.70" r="2.35"/><circle cx="562.7" cy="232.88" r="2.35"/><circle cx="599.4" cy="231.38" r="2.35"/><circle cx="48.6" cy="299.20" r="2.35"/><circle cx="85.3" cy="299.18" r="2.35"/><circle cx="122.0" cy="299.05" r="2.35"/><circle cx="158.8" cy="298.43" r="2.35"/><circle cx="195.5" cy="297.99" r="2.35"/><circle cx="232.2" cy="295.85" r="2.35"/><circle cx="268.9" cy="291.23" r="2.35"/><circle cx="305.6" cy="286.98" r="2.35"/><circle cx="342.4" cy="277.19" r="2.35"/><circle cx="379.1" cy="270.63" r="2.35"/><circle cx="415.8" cy="261.02" r="2.35"/><circle cx="452.5" cy="255.41" r="2.35"/><circle cx="489.2" cy="249.21" r="2.35"/><circle cx="526.0" cy="247.20" r="2.35"/><circle cx="562.7" cy="241.88" r="2.35"/><circle cx="599.4" cy="233.44" r="2.35"/><circle cx="48.6" cy="299.20" r="2.35"/><circle cx="85.3" cy="299.17" r="2.35"/><circle cx="122.0" cy="299.10" r="2.35"/><circle cx="158.8" cy="299.03" r="2.35"/><circle cx="195.5" cy="296.53" r="2.35"/><circle cx="232.2" cy="294.70" r="2.35"/><circle cx="268.9" cy="287.31" r="2.35"/><circle cx="305.6" cy="285.63" r="2.35"/><circle cx="342.4" cy="276.85" r="2.35"/><circle cx="379.1" cy="270.62" r="2.35"/><circle cx="415.8" cy="266.48" r="2.35"/><circle cx="452.5" cy="261.38" r="2.35"/><circle cx="489.2" cy="254.55" r="2.35"/><circle cx="526.0" cy="245.50" r="2.35"/><circle cx="562.7" cy="242.27" r="2.35"/><circle cx="599.4" cy="236.52" r="2.35"/><circle cx="48.6" cy="299.20" r="2.35"/><circle cx="85.3" cy="299.16" r="2.35"/><circle cx="122.0" cy="299.12" r="2.35"/><circle cx="158.8" cy="298.57" r="2.35"/><circle cx="195.5" cy="295.21" r="2.35"/><circle cx="232.2" cy="294.83" r="2.35"/><circle cx="268.9" cy="284.85" r="2.35"/><circle cx="305.6" cy="277.60" r="2.35"/><circle cx="342.4" cy="274.48" r="2.35"/><circle cx="379.1" cy="269.80" r="2.35"/><circle cx="415.8" cy="264.48" r="2.35"/><circle cx="452.5" cy="263.08" r="2.35"/><circle cx="489.2" cy="254.33" r="2.35"/><circle cx="526.0" cy="249.70" r="2.35"/><circle cx="562.7" cy="247.62" r="2.35"/><circle cx="599.4" cy="238.58" r="2.35"/><circle cx="48.6" cy="299.20" r="2.35"/><circle cx="85.3" cy="298.92" r="2.35"/><circle cx="122.0" cy="298.29" r="2.35"/><circle cx="158.8" cy="297.36" r="2.35"/><circle cx="195.5" cy="295.56" r="2.35"/><circle cx="232.2" cy="292.81" r="2.35"/><circle cx="268.9" cy="281.95" r="2.35"/><circle cx="305.6" cy="275.79" r="2.35"/><circle cx="342.4" cy="267.10" r="2.35"/><circle cx="379.1" cy="266.47" r="2.35"/><circle cx="415.8" cy="260.76" r="2.35"/><circle cx="452.5" cy="253.50" r="2.35"/><circle cx="489.2" cy="250.87" r="2.35"/><circle cx="526.0" cy="247.09" r="2.35"/><circle cx="562.7" cy="243.73" r="2.35"/><circle cx="599.4" cy="240.63" r="2.35"/><circle cx="48.6" cy="299.20" r="2.35"/><circle cx="85.3" cy="298.82" r="2.35"/><circle cx="122.0" cy="298.27" r="2.35"/><circle cx="158.8" cy="297.64" r="2.35"/><circle cx="195.5" cy="296.87" r="2.35"/><circle cx="232.2" cy="296.47" r="2.35"/><circle cx="268.9" cy="286.52" r="2.35"/><circle cx="305.6" cy="278.66" r="2.35"/><circle cx="342.4" cy="277.23" r="2.35"/><circle cx="379.1" cy="271.42" r="2.35"/><circle cx="415.8" cy="265.18" r="2.35"/><circle cx="452.5" cy="258.37" r="2.35"/><circle cx="489.2" cy="253.98" r="2.35"/><circle cx="526.0" cy="248.82" r="2.35"/><circle cx="562.7" cy="245.14" r="2.35"/><circle cx="599.4" cy="242.69" r="2.35"/><circle cx="48.6" cy="299.20" r="2.35"/><circle cx="85.3" cy="299.19" r="2.35"/><circle cx="122.0" cy="299.06" r="2.35"/><circle cx="158.8" cy="298.85" r="2.35"/><circle cx="195.5" cy="298.22" r="2.35"/><circle cx="232.2" cy="296.15" r="2.35"/><circle cx="268.9" cy="293.86" r="2.35"/><circle cx="305.6" cy="290.83" r="2.35"/><circle cx="342.4" cy="282.42" r="2.35"/><circle cx="379.1" cy="277.02" r="2.35"/><circle cx="415.8" cy="270.60" r="2.35"/><circle cx="452.5" cy="262.60" r="2.35"/><circle cx="489.2" cy="257.88" r="2.35"/><circle cx="526.0" cy="252.86" r="2.35"/><circle cx="562.7" cy="245.82" r="2.35"/><circle cx="599.4" cy="244.74" r="2.35"/><circle cx="48.6" cy="299.20" r="2.35"/><circle cx="85.3" cy="299.01" r="2.35"/><circle cx="122.0" cy="298.89" r="2.35"/><circle cx="158.8" cy="298.22" r="2.35"/><circle cx="195.5" cy="294.41" r="2.35"/><circle cx="232.2" cy="292.68" r="2.35"/><circle cx="268.9" cy="287.12" r="2.35"/><circle cx="305.6" cy="285.27" r="2.35"/><circle cx="342.4" cy="276.93" r="2.35"/><circle cx="379.1" cy="272.46" r="2.35"/><circle cx="415.8" cy="268.12" r="2.35"/><circle cx="452.5" cy="264.53" r="2.35"/><circle cx="489.2" cy="259.14" r="2.35"/><circle cx="526.0" cy="254.14" r="2.35"/><circle cx="562.7" cy="249.70" r="2.35"/><circle cx="599.4" cy="246.59" r="2.35"/><circle cx="48.6" cy="299.20" r="2.35"/><circle cx="85.3" cy="298.56" r="2.35"/><circle cx="122.0" cy="297.69" r="2.35"/><circle cx="158.8" cy="296.83" r="2.35"/><circle cx="195.5" cy="293.52" r="2.35"/><circle cx="232.2" cy="288.32" r="2.35"/><circle cx="268.9" cy="279.10" r="2.35"/><circle cx="305.6" cy="271.78" r="2.35"/><circle cx="342.4" cy="269.60" r="2.35"/><circle cx="379.1" cy="267.20" r="2.35"/><circle cx="415.8" cy="262.34" r="2.35"/><circle cx="452.5" cy="255.72" r="2.35"/><circle cx="489.2" cy="255.42" r="2.35"/><circle cx="526.0" cy="252.02" r="2.35"/><circle cx="562.7" cy="251.51" r="2.35"/><circle cx="599.4" cy="248.85" r="2.35"/><circle cx="48.6" cy="299.20" r="2.35"/><circle cx="85.3" cy="299.17" r="2.35"/><circle cx="122.0" cy="299.12" r="2.35"/><circle cx="158.8" cy="299.06" r="2.35"/><circle cx="195.5" cy="298.46" r="2.35"/><circle cx="232.2" cy="297.15" r="2.35"/><circle cx="268.9" cy="292.22" r="2.35"/><circle cx="305.6" cy="286.03" r="2.35"/><circle cx="342.4" cy="285.27" r="2.35"/><circle cx="379.1" cy="283.09" r="2.35"/><circle cx="415.8" cy="277.59" r="2.35"/><circle cx="452.5" cy="274.25" r="2.35"/><circle cx="489.2" cy="269.11" r="2.35"/><circle cx="526.0" cy="260.12" r="2.35"/><circle cx="562.7" cy="257.11" r="2.35"/><circle cx="599.4" cy="250.91" r="2.35"/><circle cx="48.6" cy="299.20" r="2.35"/><circle cx="85.3" cy="298.95" r="2.35"/><circle cx="122.0" cy="298.57" r="2.35"/><circle cx="158.8" cy="297.42" r="2.35"/><circle cx="195.5" cy="294.60" r="2.35"/><circle cx="232.2" cy="291.94" r="2.35"/><circle cx="268.9" cy="286.86" r="2.35"/><circle cx="305.6" cy="282.72" r="2.35"/><circle cx="342.4" cy="281.24" r="2.35"/><circle cx="379.1" cy="276.20" r="2.35"/><circle cx="415.8" cy="269.79" r="2.35"/><circle cx="452.5" cy="269.10" r="2.35"/><circle cx="489.2" cy="264.60" r="2.35"/><circle cx="526.0" cy="258.44" r="2.35"/><circle cx="562.7" cy="254.50" r="2.35"/><circle cx="599.4" cy="253.99" r="2.35"/><circle cx="48.6" cy="299.20" r="2.35"/><circle cx="85.3" cy="295.63" r="2.35"/><circle cx="122.0" cy="292.72" r="2.35"/><circle cx="158.8" cy="290.87" r="2.35"/><circle cx="195.5" cy="284.02" r="2.35"/><circle cx="232.2" cy="281.26" r="2.35"/><circle cx="268.9" cy="278.38" r="2.35"/><circle cx="305.6" cy="277.54" r="2.35"/><circle cx="342.4" cy="273.08" r="2.35"/><circle cx="379.1" cy="269.06" r="2.35"/><circle cx="415.8" cy="266.65" r="2.35"/><circle cx="452.5" cy="264.42" r="2.35"/><circle cx="489.2" cy="264.05" r="2.35"/><circle cx="526.0" cy="259.93" r="2.35"/><circle cx="562.7" cy="257.36" r="2.35"/><circle cx="599.4" cy="256.04" r="2.35"/><circle cx="48.6" cy="299.20" r="2.35"/><circle cx="85.3" cy="299.14" r="2.35"/><circle cx="122.0" cy="298.73" r="2.35"/><circle cx="158.8" cy="298.55" r="2.35"/><circle cx="195.5" cy="296.70" r="2.35"/><circle cx="232.2" cy="295.22" r="2.35"/><circle cx="268.9" cy="287.61" r="2.35"/><circle cx="305.6" cy="285.30" r="2.35"/><circle cx="342.4" cy="278.05" r="2.35"/><circle cx="379.1" cy="275.53" r="2.35"/><circle cx="415.8" cy="273.36" r="2.35"/><circle cx="452.5" cy="269.50" r="2.35"/><circle cx="489.2" cy="264.18" r="2.35"/><circle cx="526.0" cy="261.04" r="2.35"/><circle cx="562.7" cy="260.51" r="2.35"/><circle cx="599.4" cy="259.13" r="2.35"/><circle cx="48.6" cy="299.20" r="2.35"/><circle cx="85.3" cy="298.93" r="2.35"/><circle cx="122.0" cy="298.38" r="2.35"/><circle cx="158.8" cy="297.59" r="2.35"/><circle cx="195.5" cy="293.59" r="2.35"/><circle cx="232.2" cy="291.50" r="2.35"/><circle cx="268.9" cy="288.36" r="2.35"/><circle cx="305.6" cy="285.51" r="2.35"/><circle cx="342.4" cy="279.53" r="2.35"/><circle cx="379.1" cy="274.50" r="2.35"/><circle cx="415.8" cy="272.30" r="2.35"/><circle cx="452.5" cy="269.83" r="2.35"/><circle cx="489.2" cy="267.75" r="2.35"/><circle cx="526.0" cy="263.25" r="2.35"/><circle cx="562.7" cy="261.55" r="2.35"/><circle cx="599.4" cy="260.15" r="2.35"/><circle cx="48.6" cy="299.20" r="2.35"/><circle cx="85.3" cy="299.07" r="2.35"/><circle cx="122.0" cy="299.04" r="2.35"/><circle cx="158.8" cy="298.28" r="2.35"/><circle cx="195.5" cy="295.81" r="2.35"/><circle cx="232.2" cy="295.59" r="2.35"/><circle cx="268.9" cy="289.91" r="2.35"/><circle cx="305.6" cy="288.03" r="2.35"/><circle cx="342.4" cy="285.47" r="2.35"/><circle cx="379.1" cy="282.80" r="2.35"/><circle cx="415.8" cy="277.97" r="2.35"/><circle cx="452.5" cy="271.14" r="2.35"/><circle cx="489.2" cy="267.22" r="2.35"/><circle cx="526.0" cy="264.89" r="2.35"/><circle cx="562.7" cy="262.65" r="2.35"/><circle cx="599.4" cy="262.21" r="2.35"/><circle cx="48.6" cy="299.20" r="2.35"/><circle cx="85.3" cy="299.16" r="2.35"/><circle cx="122.0" cy="298.71" r="2.35"/><circle cx="158.8" cy="297.50" r="2.35"/><circle cx="195.5" cy="297.09" r="2.35"/><circle cx="232.2" cy="296.20" r="2.35"/><circle cx="268.9" cy="290.18" r="2.35"/><circle cx="305.6" cy="285.84" r="2.35"/><circle cx="342.4" cy="277.91" r="2.35"/><circle cx="379.1" cy="275.43" r="2.35"/><circle cx="415.8" cy="273.20" r="2.35"/><circle cx="452.5" cy="272.65" r="2.35"/><circle cx="489.2" cy="271.08" r="2.35"/><circle cx="526.0" cy="267.46" r="2.35"/><circle cx="562.7" cy="264.27" r="2.35"/><circle cx="599.4" cy="263.85" r="2.35"/></g></g><polyline id="avg" points="48.6,299.13 85.3,298.84 122.0,298.46 158.8,297.29 195.5,294.44 232.2,290.82 268.9,282.86 305.6,275.87 342.4,268.13 379.1,262.27 415.8,255.76 452.5,248.69 489.2,243.16 526.0,236.29 562.7,231.39 599.4,226.49" fill="none" stroke="#111" stroke-width="1.0"/><polyline id="normal" points="49.0,295.30 81.0,293.30 170.0,284.90 225.0,280.00 256.0,278.00 300.0,272.70 362.0,266.50 430.0,259.60 461.0,257.10 524.0,249.40 560.0,246.10 599.5,242.90" fill="none" stroke="#1836f5" stroke-width="2.4"/><g fill="#000"><circle cx="48.6" cy="299.13" r="2.6"/><circle cx="85.3" cy="298.84" r="2.6"/><circle cx="122.0" cy="298.46" r="2.6"/><circle cx="158.8" cy="297.29" r="2.6"/><circle cx="195.5" cy="294.44" r="2.6"/><circle cx="232.2" cy="290.82" r="2.6"/><circle cx="268.9" cy="282.86" r="2.6"/><circle cx="305.6" cy="275.87" r="2.6"/><circle cx="342.4" cy="268.13" r="2.6"/><circle cx="379.1" cy="262.27" r="2.6"/><circle cx="415.8" cy="255.76" r="2.6"/><circle cx="452.5" cy="248.69" r="2.6"/><circle cx="489.2" cy="243.16" r="2.6"/><circle cx="526.0" cy="236.29" r="2.6"/><circle cx="562.7" cy="231.39" r="2.6"/><circle cx="599.4" cy="226.49" r="2.6"/></g></g><rect x="48.7" y="99.9" width="550.8" height="213.6" fill="none" stroke="#000" stroke-width="1.6"/><g stroke="#000" stroke-width="1.2"><line x1="44" y1="299.2" x2="49" y2="299.2"/><line x1="44" y1="258.1" x2="49" y2="258.1"/><line x1="44" y1="217.0" x2="49" y2="217.0"/><line x1="44" y1="175.9" x2="49" y2="175.9"/><line x1="44" y1="134.8" x2="49" y2="134.8"/><line x1="85.3" y1="313" x2="85.3" y2="316.8"/><line x1="158.8" y1="313" x2="158.8" y2="316.8"/><line x1="232.2" y1="313" x2="232.2" y2="316.8"/><line x1="305.6" y1="313" x2="305.6" y2="316.8"/><line x1="379.1" y1="313" x2="379.1" y2="316.8"/><line x1="452.5" y1="313" x2="452.5" y2="316.8"/><line x1="526.0" y1="313" x2="526.0" y2="316.8"/><line x1="599.4" y1="313" x2="599.4" y2="316.8"/></g><line x1="65.3" y1="127.8" x2="104.6" y2="127.8" stroke="#bdbdbd" stroke-width="1.2"/><circle cx="65.3" cy="127.8" r="2.5" fill="#ababab"/><circle cx="104.6" cy="127.8" r="2.5" fill="#ababab"/><rect x="273" y="123" width="40" height="4.5" fill="#f5c878"/><rect x="273" y="128.2" width="40" height="4.3" fill="#76ee00"/><line x1="273" y1="127.8" x2="313" y2="127.8" stroke="#222" stroke-width="1.2"/><circle cx="273.2" cy="127.8" r="2.7" fill="#000"/><circle cx="312.6" cy="127.8" r="2.7" fill="#000"/><line x1="480.4" y1="127.9" x2="521.8" y2="127.9" stroke="#1836f5" stroke-width="2.5"/><rect x="59.5" y="142" width="283.8" height="28" fill="none" stroke="#808080" stroke-width="1.1"/><g id="bars"><rect x="49.0" y="453.4" width="12.6" height="0.8" fill="#76ee00"/><rect x="72.3" y="451.1" width="26.0" height="3.1" fill="#76ee00"/><rect x="109.0" y="450.0" width="26.0" height="4.2" fill="#76ee00"/><rect x="145.8" y="441.5" width="26.0" height="12.7" fill="#76ee00"/><rect x="182.5" y="423.2" width="26.0" height="31.0" fill="#76ee00"/><rect x="219.2" y="414.8" width="26.0" height="39.4" fill="#76ee00"/><rect x="255.9" y="367.6" width="26.0" height="86.6" fill="#76ee00"/><rect x="292.6" y="378.1" width="26.0" height="76.1" fill="#76ee00"/><rect x="329.4" y="370.0" width="26.0" height="84.2" fill="#76ee00"/><rect x="366.1" y="390.5" width="26.0" height="63.7" fill="#76ee00"/><rect x="402.8" y="383.3" width="26.0" height="70.9" fill="#76ee00"/><rect x="439.5" y="377.3" width="26.0" height="76.9" fill="#76ee00"/><rect x="476.2" y="394.0" width="26.0" height="60.2" fill="#76ee00"/><rect x="513.0" y="379.5" width="26.0" height="74.7" fill="#76ee00"/><rect x="549.7" y="400.9" width="26.0" height="53.3" fill="#76ee00"/><rect x="586.4" y="400.9" width="13.1" height="53.3" fill="#76ee00"/></g><line x1="53.1" y1="398.3" x2="599" y2="398.3" stroke="#b0b0b0" stroke-width="1.1" stroke-dasharray="1.4 3.657"/><clipPath id="cpb"><rect x="49.0" y="453.4" width="12.6" height="0.8" fill="#76ee00"/><rect x="72.3" y="451.1" width="26.0" height="3.1" fill="#76ee00"/><rect x="109.0" y="450.0" width="26.0" height="4.2" fill="#76ee00"/><rect x="145.8" y="441.5" width="26.0" height="12.7" fill="#76ee00"/><rect x="182.5" y="423.2" width="26.0" height="31.0" fill="#76ee00"/><rect x="219.2" y="414.8" width="26.0" height="39.4" fill="#76ee00"/><rect x="255.9" y="367.6" width="26.0" height="86.6" fill="#76ee00"/><rect x="292.6" y="378.1" width="26.0" height="76.1" fill="#76ee00"/><rect x="329.4" y="370.0" width="26.0" height="84.2" fill="#76ee00"/><rect x="366.1" y="390.5" width="26.0" height="63.7" fill="#76ee00"/><rect x="402.8" y="383.3" width="26.0" height="70.9" fill="#76ee00"/><rect x="439.5" y="377.3" width="26.0" height="76.9" fill="#76ee00"/><rect x="476.2" y="394.0" width="26.0" height="60.2" fill="#76ee00"/><rect x="513.0" y="379.5" width="26.0" height="74.7" fill="#76ee00"/><rect x="549.7" y="400.9" width="26.0" height="53.3" fill="#76ee00"/><rect x="586.4" y="400.9" width="13.1" height="53.3" fill="#76ee00"/></clipPath><g clip-path="url(#cpb)"><line x1="53.1" y1="398.3" x2="599" y2="398.3" stroke="#3a3a3a" stroke-width="1.1" stroke-dasharray="1.4 3.657"/></g><rect x="48.7" y="341.7" width="550.8" height="112.5" fill="none" stroke="#000" stroke-width="1.6"/><g stroke="#000" stroke-width="1.2"><line x1="44" y1="454.2" x2="49" y2="454.2"/><line x1="44" y1="398.3" x2="49" y2="398.3"/><line x1="44" y1="342.4" x2="49" y2="342.4"/><line x1="85.3" y1="454" x2="85.3" y2="457.5"/><line x1="158.8" y1="454" x2="158.8" y2="457.5"/><line x1="232.2" y1="454" x2="232.2" y2="457.5"/><line x1="305.6" y1="454" x2="305.6" y2="457.5"/><line x1="379.1" y1="454" x2="379.1" y2="457.5"/><line x1="452.5" y1="454" x2="452.5" y2="457.5"/><line x1="526.0" y1="454" x2="526.0" y2="457.5"/><line x1="599.4" y1="454" x2="599.4" y2="457.5"/></g><g font-family="Liberation Sans, sans-serif"><text id="t1" x="151.40" y="22.40" font-size="18.31" fill="#000" textLength="321.51" lengthAdjust="spacing" stroke="#fff" stroke-width="0.20" word-spacing="3.7">Argentina Soybeans Precipitation</text>
<text id="t2" x="98.39" y="45.40" font-size="15.41" fill="#000" textLength="427.82" lengthAdjust="spacing" stroke="#fff" stroke-width="0.20" word-spacing="3.1">Forecast Precipitation Compared to Normal (inches)</text>
<text id="t3" x="172.49" y="64.90" font-size="14.97" fill="#000" textLength="280.52" lengthAdjust="spacing" stroke="#fff" stroke-width="0.20" word-spacing="3.0">Production–Weighted Area Average</text>
<text id="t4" x="113.25" y="85.50" font-size="15.70" fill="#000" textLength="399.66" lengthAdjust="spacing" stroke="#fff" stroke-width="0.20" word-spacing="3.1">15–Day Forecast Beginning 20 February 2025</text>
<text id="l1" x="60.39" y="116.20" font-size="11.63" fill="#000" textLength="309.92" lengthAdjust="spacing" stroke="#fff" stroke-width="0.10" word-spacing="2.3">National Weather Service Global Forecast System</text>
<text id="l2" x="115.83" y="132.00" font-size="11.63" fill="#000" textLength="119.95" lengthAdjust="spacing" stroke="#fff" stroke-width="0.10" word-spacing="2.3">Ensemble Members</text>
<text id="l3" x="324.07" y="132.10" font-size="11.63" fill="#000" textLength="113.31" lengthAdjust="spacing" stroke="#fff" stroke-width="0.10" word-spacing="2.3">Ensemble Average</text>
<text id="l4" x="532.20" y="132.00" font-size="11.63" fill="#000" textLength="42.99" lengthAdjust="spacing" stroke="#fff" stroke-width="0.10" word-spacing="2.3">Normal</text>
<text id="b1" x="73.90" y="154.30" font-size="10.32" fill="#111" textLength="97.58" lengthAdjust="spacing" stroke="#fff" stroke-width="0.10" word-spacing="2.1">Percent of Crop:</text>
<text id="b2" x="64.49" y="165.40" font-size="10.32" fill="#111" textLength="105.99" lengthAdjust="spacing" stroke="#fff" stroke-width="0.10" word-spacing="2.1">Receives at Least:</text>
<text id="b3" x="188.74" y="154.50" font-size="10.76" fill="#111" textLength="14.70" lengthAdjust="spacingAndGlyphs" stroke="#fff" stroke-width="0.10">90</text>
<text id="b4" x="245.09" y="154.50" font-size="10.76" fill="#111" textLength="14.48" lengthAdjust="spacingAndGlyphs" stroke="#fff" stroke-width="0.10">50</text>
<text id="b5" x="301.72" y="154.50" font-size="10.76" fill="#111" textLength="14.64" lengthAdjust="spacingAndGlyphs" stroke="#fff" stroke-width="0.10">10</text>
<text id="b6" x="183.22" y="165.80" font-size="11.05" fill="#111" textLength="18.76" lengthAdjust="spacingAndGlyphs" stroke="#fff" stroke-width="0.10">2.5</text>
<text id="b7" x="239.19" y="165.80" font-size="11.05" fill="#111" textLength="18.71" lengthAdjust="spacingAndGlyphs" stroke="#fff" stroke-width="0.10">3.5</text>
<text id="b8" x="295.88" y="165.80" font-size="11.05" fill="#111" textLength="17.87" lengthAdjust="spacingAndGlyphs" stroke="#fff" stroke-width="0.10">4.7</text>
<text id="b6i" x="208.51" y="165.80" font-size="11.05" fill="#111" textLength="13.87" lengthAdjust="spacingAndGlyphs" stroke="#fff" stroke-width="0.10">in.</text>
<text id="b7i" x="264.51" y="165.80" font-size="11.05" fill="#111" textLength="13.87" lengthAdjust="spacingAndGlyphs" stroke="#fff" stroke-width="0.10">in.</text>
<text id="b8i" x="320.51" y="165.80" font-size="11.05" fill="#111" textLength="13.87" lengthAdjust="spacingAndGlyphs" stroke="#fff" stroke-width="0.10">in.</text>
<text id="g1" x="59.75" y="356.50" font-size="11.63" fill="#000" textLength="231.96" lengthAdjust="spacing" stroke="#fff" stroke-width="0.10" word-spacing="2.3">Ensemble Average Daily Precipitation</text>
<text id="g2" x="478.58" y="355.60" font-size="11.63" fill="#000" textLength="108.70" lengthAdjust="spacing" stroke="#fff" stroke-width="0.10" word-spacing="2.3">World Ag Weather</text>
<text id="gc" x="463.42" y="357.00" font-size="13.08" fill="#000" textLength="18.80" lengthAdjust="spacing" stroke="#fff" stroke-width="0.10" word-spacing="2.6">©</text>
<text id="y0" x="33.59" y="304.20" font-size="14.39" fill="#111" textLength="6.99" lengthAdjust="spacingAndGlyphs" stroke="#fff" stroke-width="0.20">0</text>
<text id="y2" x="32.99" y="263.10" font-size="14.39" fill="#111" textLength="8.07" lengthAdjust="spacingAndGlyphs" stroke="#fff" stroke-width="0.20">2</text>
<text id="y4" x="33.47" y="222.10" font-size="14.39" fill="#111" textLength="7.50" lengthAdjust="spacingAndGlyphs" stroke="#fff" stroke-width="0.20">4</text>
<text id="y6" x="32.99" y="181.00" font-size="14.39" fill="#111" textLength="8.07" lengthAdjust="spacingAndGlyphs" stroke="#fff" stroke-width="0.20">6</text>
<text id="y8" x="32.98" y="140.00" font-size="14.39" fill="#111" textLength="8.59" lengthAdjust="spacingAndGlyphs" stroke="#fff" stroke-width="0.20">8</text>
<text id="z0" x="33.13" y="459.40" font-size="14.39" fill="#111" textLength="7.92" lengthAdjust="spacingAndGlyphs" stroke="#fff" stroke-width="0.20">0</text>
<text id="z1" x="13.62" y="403.70" font-size="14.39" fill="#111" textLength="26.67" lengthAdjust="spacingAndGlyphs" stroke="#fff" stroke-width="0.20">0.25</text>
<text id="z2" x="21.03" y="347.80" font-size="14.39" fill="#111" textLength="19.37" lengthAdjust="spacingAndGlyphs" stroke="#fff" stroke-width="0.20">0.5</text>
<text id="xu0" x="69.76" y="327.40" font-size="11.63" fill="#111" textLength="31.46" lengthAdjust="spacingAndGlyphs" stroke="#111" stroke-width="0.3">21FEB</text>
<text id="xl0" x="69.76" y="467.70" font-size="11.63" fill="#111" textLength="31.46" lengthAdjust="spacingAndGlyphs" stroke="#111" stroke-width="0.3">21FEB</text>
<text id="xu1" x="143.23" y="327.40" font-size="11.63" fill="#111" textLength="31.40" lengthAdjust="spacingAndGlyphs" stroke="#111" stroke-width="0.3">23FEB</text>
<text id="xl1" x="143.23" y="467.70" font-size="11.63" fill="#111" textLength="31.40" lengthAdjust="spacingAndGlyphs" stroke="#111" stroke-width="0.3">23FEB</text>
<text id="xu2" x="216.34" y="327.40" font-size="11.63" fill="#111" textLength="31.57" lengthAdjust="spacingAndGlyphs" stroke="#111" stroke-width="0.3">25FEB</text>
<text id="xl2" x="216.34" y="467.70" font-size="11.63" fill="#111" textLength="31.57" lengthAdjust="spacingAndGlyphs" stroke="#111" stroke-width="0.3">25FEB</text>
<text id="xu3" x="289.82" y="327.40" font-size="11.63" fill="#111" textLength="31.39" lengthAdjust="spacingAndGlyphs" stroke="#111" stroke-width="0.3">27FEB</text>
<text id="xl3" x="289.82" y="467.70" font-size="11.63" fill="#111" textLength="31.39" lengthAdjust="spacingAndGlyphs" stroke="#111" stroke-width="0.3">27FEB</text>
<text id="xu4" x="367.17" y="327.40" font-size="11.63" fill="#111" textLength="24.28" lengthAdjust="spacingAndGlyphs" stroke="#111" stroke-width="0.3">1MAR</text>
<text id="xl4" x="367.17" y="467.70" font-size="11.63" fill="#111" textLength="24.28" lengthAdjust="spacingAndGlyphs" stroke="#111" stroke-width="0.3">1MAR</text>
<text id="xu5" x="439.93" y="327.40" font-size="11.63" fill="#111" textLength="25.46" lengthAdjust="spacingAndGlyphs" stroke="#111" stroke-width="0.3">3MAR</text>
<text id="xl5" x="439.93" y="467.70" font-size="11.63" fill="#111" textLength="25.46" lengthAdjust="spacingAndGlyphs" stroke="#111" stroke-width="0.3">3MAR</text>
<text id="xu6" x="513.34" y="327.40" font-size="11.63" fill="#111" textLength="25.42" lengthAdjust="spacingAndGlyphs" stroke="#111" stroke-width="0.3">5MAR</text>
<text id="xl6" x="513.34" y="467.70" font-size="11.63" fill="#111" textLength="25.42" lengthAdjust="spacingAndGlyphs" stroke="#111" stroke-width="0.3">5MAR</text>
<text id="xu7" x="587.55" y="327.40" font-size="11.63" fill="#111" textLength="24.46" lengthAdjust="spacingAndGlyphs" stroke="#111" stroke-width="0.3">7MAR</text>
<text id="xl7" x="587.55" y="467.70" font-size="11.63" fill="#111" textLength="24.46" lengthAdjust="spacingAndGlyphs" stroke="#111" stroke-width="0.3">7MAR</text>
<text id="xu_y" x="72.93" y="338.40" font-size="11.63" fill="#111" textLength="24.48" lengthAdjust="spacingAndGlyphs" stroke="#111" stroke-width="0.3">2025</text>
<text id="xl_y" x="72.93" y="478.70" font-size="11.63" fill="#111" textLength="24.48" lengthAdjust="spacingAndGlyphs" stroke="#111" stroke-width="0.3">2025</text>
<text id="ri1" x="0" y="0" font-size="13.00" fill="#111" textLength="41.50" lengthAdjust="spacingAndGlyphs" stroke="#fff" stroke-width="0.15" transform="translate(13.2,201.20) rotate(-90)" text-anchor="middle">inches</text>
<text id="ri2" x="0" y="0" font-size="13.00" fill="#111" textLength="41.50" lengthAdjust="spacingAndGlyphs" stroke="#fff" stroke-width="0.15" transform="translate(13.2,397.70) rotate(-90)" text-anchor="middle">inches</text></g></svg>
</body></html>
